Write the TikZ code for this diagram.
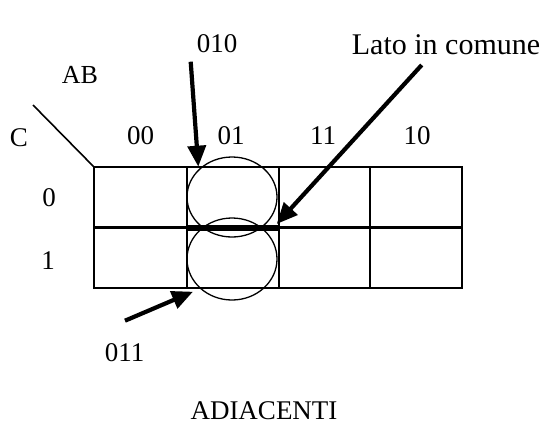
\documentclass[tikz,border=0pt]{standalone}
\usepackage{fontspec}
\setmainfont{Liberation Serif}
\usetikzlibrary{arrows.meta}
\begin{document}
\begin{tikzpicture}[x=1pt,y=-1pt,
  lbl/.style={inner sep=0pt,font=\fontsize{27}{32}\selectfont},
  gridline/.style={line width=2.6pt},
  loop/.style={line width=1.3pt},
  bigarrow/.style={line width=4.2pt,-{Triangle[length=21pt,width=18pt]}},
  commonside/.style={line width=6pt}]
\useasboundingbox (0,0) rectangle (545,426);
% grid
\draw[gridline] (94,167) rectangle (462,288);
\draw[gridline] (94,227.5) -- (462,227.5);
\foreach \x in {187,279,370} \draw[gridline] (\x,167) -- (\x,288);
% diagonal
\coordinate (dstart) at (33,105);
\coordinate (corner) at (94,167);
\draw[line width=1.6pt] (dstart) -- (corner);
% labels
\node[lbl,font=\fontsize{26}{30}\selectfont] (ab) at (80,75) {AB};
\node[lbl] (c) at (19,137.5) {C};
\node[lbl] (c00) at (140.5,136) {00};
\node[lbl] (c01) at (231,136) {01};
\node[lbl] (c11) at (323,136) {11};
\node[lbl] (c10) at (417,136) {10};
\node[lbl] (r0) at (49,197.5) {0};
\node[lbl] (r1) at (48,261) {1};
\node[lbl] (t010) at (217,44) {010};
\node[lbl,font=\fontsize{30}{34}\selectfont] (lato) at (446,45) {Lato in comune};
\node[lbl] (t011) at (124.5,352.5) {011};
\node[lbl] (adj) at (264,411) {ADIACENTI};
% groupings
\draw[loop] (232,197) ellipse [x radius=45, y radius=40];
\draw[loop] (232,259) ellipse [x radius=45, y radius=41];
\coordinate (sideL) at (187,227.5);
\coordinate (sideR) at (279,227.5);
\draw[commonside] (sideL) -- (sideR);
% arrows
\coordinate (a1s) at (190.7,61.7);
\coordinate (a1e) at (198.3,166.7);
\coordinate (a2s) at (421.7,65);
\coordinate (a2e) at (276.7,224);
\coordinate (a3s) at (125,320.7);
\coordinate (a3e) at (193,291.7);
\draw[bigarrow] (a1s) -- (a1e);
\draw[bigarrow] (a2s) -- (a2e);
\draw[bigarrow] (a3s) -- (a3e);
\end{tikzpicture}
\end{document}
